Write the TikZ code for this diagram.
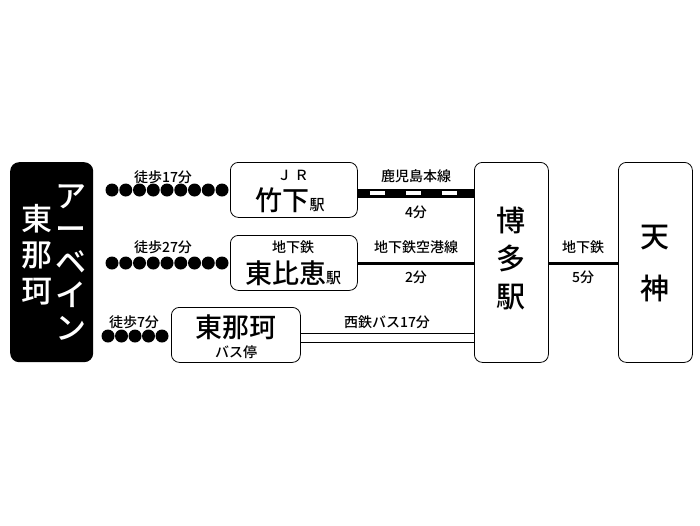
\documentclass[tikz,border=0pt]{standalone}
\usepackage{fontspec}
\setmainfont{Noto Sans CJK JP}[BoldFont={Noto Sans CJK JP Medium}]
\usetikzlibrary{positioning}
\tikzset{
  stbox/.style={draw, thick, rounded corners=8pt, fill=white},
  walkdot/.style={fill=black, circle, inner sep=0pt, minimum size=13pt},
  lbl/.style={font=\bfseries\fontsize{14}{14}\selectfont, inner sep=1pt}
}
\begin{document}
\begin{tikzpicture}[x=1pt,y=-1pt]
  \useasboundingbox (0,0) rectangle (700,525);
  % start
  \node (start) [fill=black, rounded corners=9pt, minimum width=83pt, minimum height=200pt, anchor=north west] at (10,162) {};
  \node[text=white, font=\bfseries\fontsize{31}{33}\selectfont, align=center] at (71,262) {ア\\ー\\ベ\\イ\\ン};
  \node[text=white, font=\bfseries\fontsize{31}{36}\selectfont, align=center] at (37,255) {東\\那\\珂};
  % stations
  \node (take) [stbox, minimum width=127pt, minimum height=55pt, anchor=north west] at (230,162) {};
  \node[lbl] at (293,175) {Ｊ Ｒ};
  \node[font=\bfseries\fontsize{27}{27}\selectfont] at (290,200) {竹下{\fontsize{15}{15}\selectfont 駅}};
  \node (higa) [stbox, minimum width=127pt, minimum height=55pt, anchor=north west] at (230,235) {};
  \node[lbl] at (293,247) {地下鉄};
  \node[font=\bfseries\fontsize{27}{27}\selectfont] at (293,273) {東比恵{\fontsize{15}{15}\selectfont 駅}};
  \node (bus) [stbox, minimum width=129pt, minimum height=55pt, anchor=north west] at (171,307) {};
  \node[font=\bfseries\fontsize{27}{27}\selectfont] at (236,327) {東那珂};
  \node[lbl] at (236,352) {バス停};
  \node (haka) [stbox, minimum width=74pt, minimum height=200pt, anchor=north west] at (474,162) {};
  \node[font=\bfseries\fontsize{29}{38}\selectfont, align=center] at (511,259) {博\\多\\駅};
  \node (ten) [stbox, minimum width=74pt, minimum height=200pt, anchor=north west] at (618,162) {};
  \node[font=\bfseries\fontsize{29}{52}\selectfont, align=center] at (655,264) {天\\神};
  % walking
  \foreach \i in {0,...,8} {
    \node[walkdot] at (112+13.75*\i,190) {};
    \node[walkdot] at (112+13.75*\i,263) {};
  }
  \foreach \i in {0,...,4} \node[walkdot] at (108+13.5*\i,336) {};
  \node[lbl] at (163,177) {徒歩17分};
  \node[lbl] at (163,247) {徒歩27分};
  \node[lbl] at (134,322) {徒歩7分};
  % lines
  \draw[line width=9pt] (take.east |- 0,193) -- (haka.west |- 0,193);
  \draw[line width=4.5pt, white, dash pattern=on 15pt off 21pt, dash phase=-12pt] (take.east |- 0,193) -- (haka.west |- 0,193);
  \node[lbl] at (416,176) {鹿児島本線};
  \node[lbl] at (416,212) {4分};
  \draw[line width=3pt] (higa.east |- 0,263) -- (haka.west |- 0,263);
  \node[lbl] at (416,247) {地下鉄空港線};
  \node[lbl] at (416,277) {2分};
  \draw[thick] (bus.east |- 0,333) -- (haka.west |- 0,333);
  \draw[thick] (bus.east |- 0,342) -- (haka.west |- 0,342);
  \node[lbl] at (387,322) {西鉄バス17分};
  \draw[line width=3pt] (haka.east |- 0,263) -- (ten.west |- 0,263);
  \node[lbl] at (583,247) {地下鉄};
  \node[lbl] at (583,277) {5分};
\end{tikzpicture}
\end{document}
